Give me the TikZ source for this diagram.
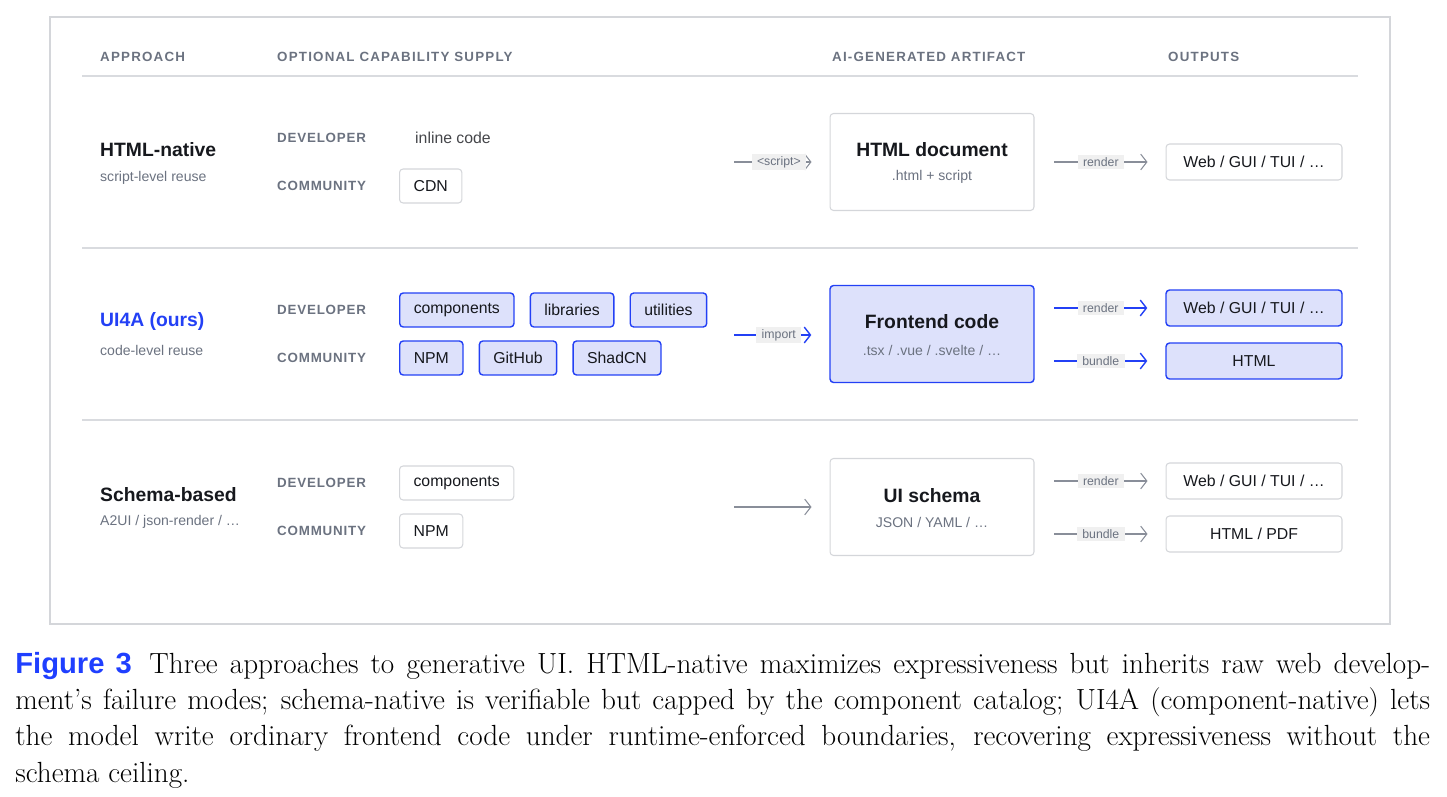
\documentclass[tikz,border=0pt]{standalone}
\usepackage{fontspec}
\usepackage{xcolor}
\newfontfamily\uifont{Liberation Sans}
\usetikzlibrary{arrows.meta,positioning}

\definecolor{frameclr}{HTML}{D4D6DA}
\definecolor{lineclr}{HTML}{D9DBDF}
\definecolor{mutedclr}{HTML}{6B7280}
\definecolor{inkclr}{HTML}{16181D}
\definecolor{blueclr}{HTML}{2340F5}
\definecolor{bluefill}{HTML}{DDE1FB}
\definecolor{pillclr}{HTML}{F0F0F0}
\definecolor{capblue}{HTML}{1F3FFF}

\tikzset{
 head/.style={anchor=west,text=mutedclr,font=\uifont\fontsize{7.6}{9}\selectfont\bfseries\addfontfeature{LetterSpace=9}},
 role/.style={anchor=west,text=mutedclr,font=\uifont\fontsize{7.6}{9}\selectfont\bfseries\addfontfeature{LetterSpace=6}},
 title/.style={anchor=west,text=inkclr,font=\uifont\fontsize{11}{13}\selectfont\bfseries},
 sub/.style={anchor=west,text=mutedclr,font=\uifont\fontsize{8}{10}\selectfont},
 chip/.style={draw=frameclr,rounded corners=2pt,line width=0.6pt,fill=white,text=inkclr,
   font=\uifont\fontsize{9}{11}\selectfont,minimum height=0.68cm,inner xsep=8pt},
 bluechip/.style={chip,draw=blueclr,fill=bluefill,line width=0.8pt},
 artifact/.style={draw=frameclr,rounded corners=2pt,line width=0.6pt,fill=white,
   minimum width=4.08cm,minimum height=1.94cm},
 outbox/.style={chip,minimum width=3.52cm,minimum height=0.72cm},
 pill/.style={fill=pillclr,text=mutedclr,font=\uifont\fontsize{7}{8}\selectfont,inner xsep=3pt,inner ysep=1.5pt,pos=0.42},
 flow/.style={draw=mutedclr!80,line width=0.6pt,-{Straight Barb[length=3.5pt,width=9pt]},shorten >=0.36cm},
 blueflow/.style={flow,draw=blueclr,line width=0.8pt},
}

\begin{document}
\begin{tikzpicture}[x=0.02cm,y=-0.02cm]
\useasboundingbox (0,0) rectangle (1447,797);

% frame and rules
\draw[frameclr,line width=0.6pt] (50,17) rectangle (1390,624);
\foreach \y in {76,248,420} \draw[lineclr,line width=0.6pt] (82,\y) -- (1358,\y);

% column heads
\node[head] (hApp) at (94,57) {APPROACH};
\node[head] (hSup) at (271,57) {OPTIONAL CAPABILITY SUPPLY};
\node[head] (hArt) at (826,57) {AI-GENERATED ARTIFACT};
\node[head] (hOut) at (1162,57) {OUTPUTS};

% row 1: HTML-native
\node[title] (t1) at (94,150) {HTML-native};
\node[sub] (s1) at (94,178) {script-level reuse};
\node[role] (d1) at (271,138) {DEVELOPER};
\node[role] (c1) at (271,186) {COMMUNITY};
\node[anchor=west,text=inkclr!80,font=\uifont\fontsize{9}{11}\selectfont] (inl) at (409,138) {inline code};
\node[chip,anchor=west] (cdn) at (399,186) {CDN};
\node[artifact] (html) at (932,162) {};
\node[title,anchor=center] at (932,150) {HTML document};
\node[sub,anchor=center] at (932,177) {.html + script};
\node[outbox] (o1) at (1254,162) {Web / GUI / TUI / \ldots};
\coordinate (a1) at (734,162);
\coordinate (r1) at (1054,162);
\draw[flow] (a1) -- node[pill,pos=0.47]{<script>} (a1 -| html.west);
\draw[flow] (r1) -- node[pill]{render} (r1 -| o1.west);

% row 2: UI4A
\node[title,text=blueclr] (t2) at (94,322) {UI4A (ours)};
\node[sub] (s2) at (94,350) {code-level reuse};
\node[role] (d2) at (271,310) {DEVELOPER};
\node[role] (c2) at (271,358) {COMMUNITY};
\node[bluechip,anchor=west] (comp) at (399,310) {components};
\node[bluechip,right=0.3cm of comp] (libs) {libraries};
\node[bluechip,right=0.3cm of libs] (util) {utilities};
\node[bluechip,anchor=west] (npm) at (399,358) {NPM};
\node[bluechip,right=0.3cm of npm] (gh) {GitHub};
\node[bluechip,right=0.3cm of gh] (shad) {ShadCN};
\node[artifact,draw=blueclr,fill=bluefill,line width=0.8pt] (fe) at (932,334) {};
\node[title,anchor=center] at (932,322) {Frontend code};
\node[sub,anchor=center] at (932,350) {.tsx / .vue / .svelte / \ldots};
\node[outbox,draw=blueclr,fill=bluefill,line width=0.8pt] (o2) at (1254,308) {Web / GUI / TUI / \ldots};
\node[outbox,draw=blueclr,fill=bluefill,line width=0.8pt] (o3) at (1254,361) {HTML};
\coordinate (a2) at (734,335);
\coordinate (r2) at (1054,308);
\coordinate (b2) at (1054,361);
\draw[blueflow] (a2) -- node[pill,pos=0.47]{import} (a2 -| fe.west);
\draw[blueflow] (r2) -- node[pill]{render} (r2 -| o2.west);
\draw[blueflow] (b2) -- node[pill]{bundle} (b2 -| o3.west);

% row 3: schema-based
\node[title] (t3) at (94,495) {Schema-based};
\node[sub] (s3) at (94,522) {A2UI / json-render / \ldots};
\node[role] (d3) at (271,483) {DEVELOPER};
\node[role] (c3) at (271,531) {COMMUNITY};
\node[chip,anchor=west] (comp3) at (399,483) {components};
\node[chip,anchor=west] (npm3) at (399,531) {NPM};
\node[artifact] (ui) at (932,507) {};
\node[title,anchor=center] at (932,496) {UI schema};
\node[sub,anchor=center] at (932,522) {JSON / YAML / \ldots};
\node[outbox] (o4) at (1254,481) {Web / GUI / TUI / \ldots};
\node[outbox] (o5) at (1254,534) {HTML / PDF};
\coordinate (a3) at (734,507);
\coordinate (r3) at (1054,481);
\coordinate (b3) at (1054,534);
\draw[flow] (a3) -- (a3 -| ui.west);
\draw[flow] (r3) -- node[pill]{render} (r3 -| o4.west);
\draw[flow] (b3) -- node[pill]{bundle} (b3 -| o5.west);

% caption
\node[anchor=north west,inner sep=0pt,text width=28.3cm,align=justify,
 font=\fontsize{16.6}{20.6}\selectfont] (cap) at (15,652)
 {{\uifont\bfseries\color{capblue}Figure 3}\hspace{0.6em}Three approaches to generative UI. HTML-native maximizes expressiveness but inherits raw web develop-\linebreak ment's failure modes; schema-native is verifiable but capped by the component catalog; UI4A (component-native) lets\linebreak the model write ordinary frontend code under runtime-enforced boundaries, recovering expressiveness without the\linebreak schema ceiling.};
\end{tikzpicture}
\end{document}
